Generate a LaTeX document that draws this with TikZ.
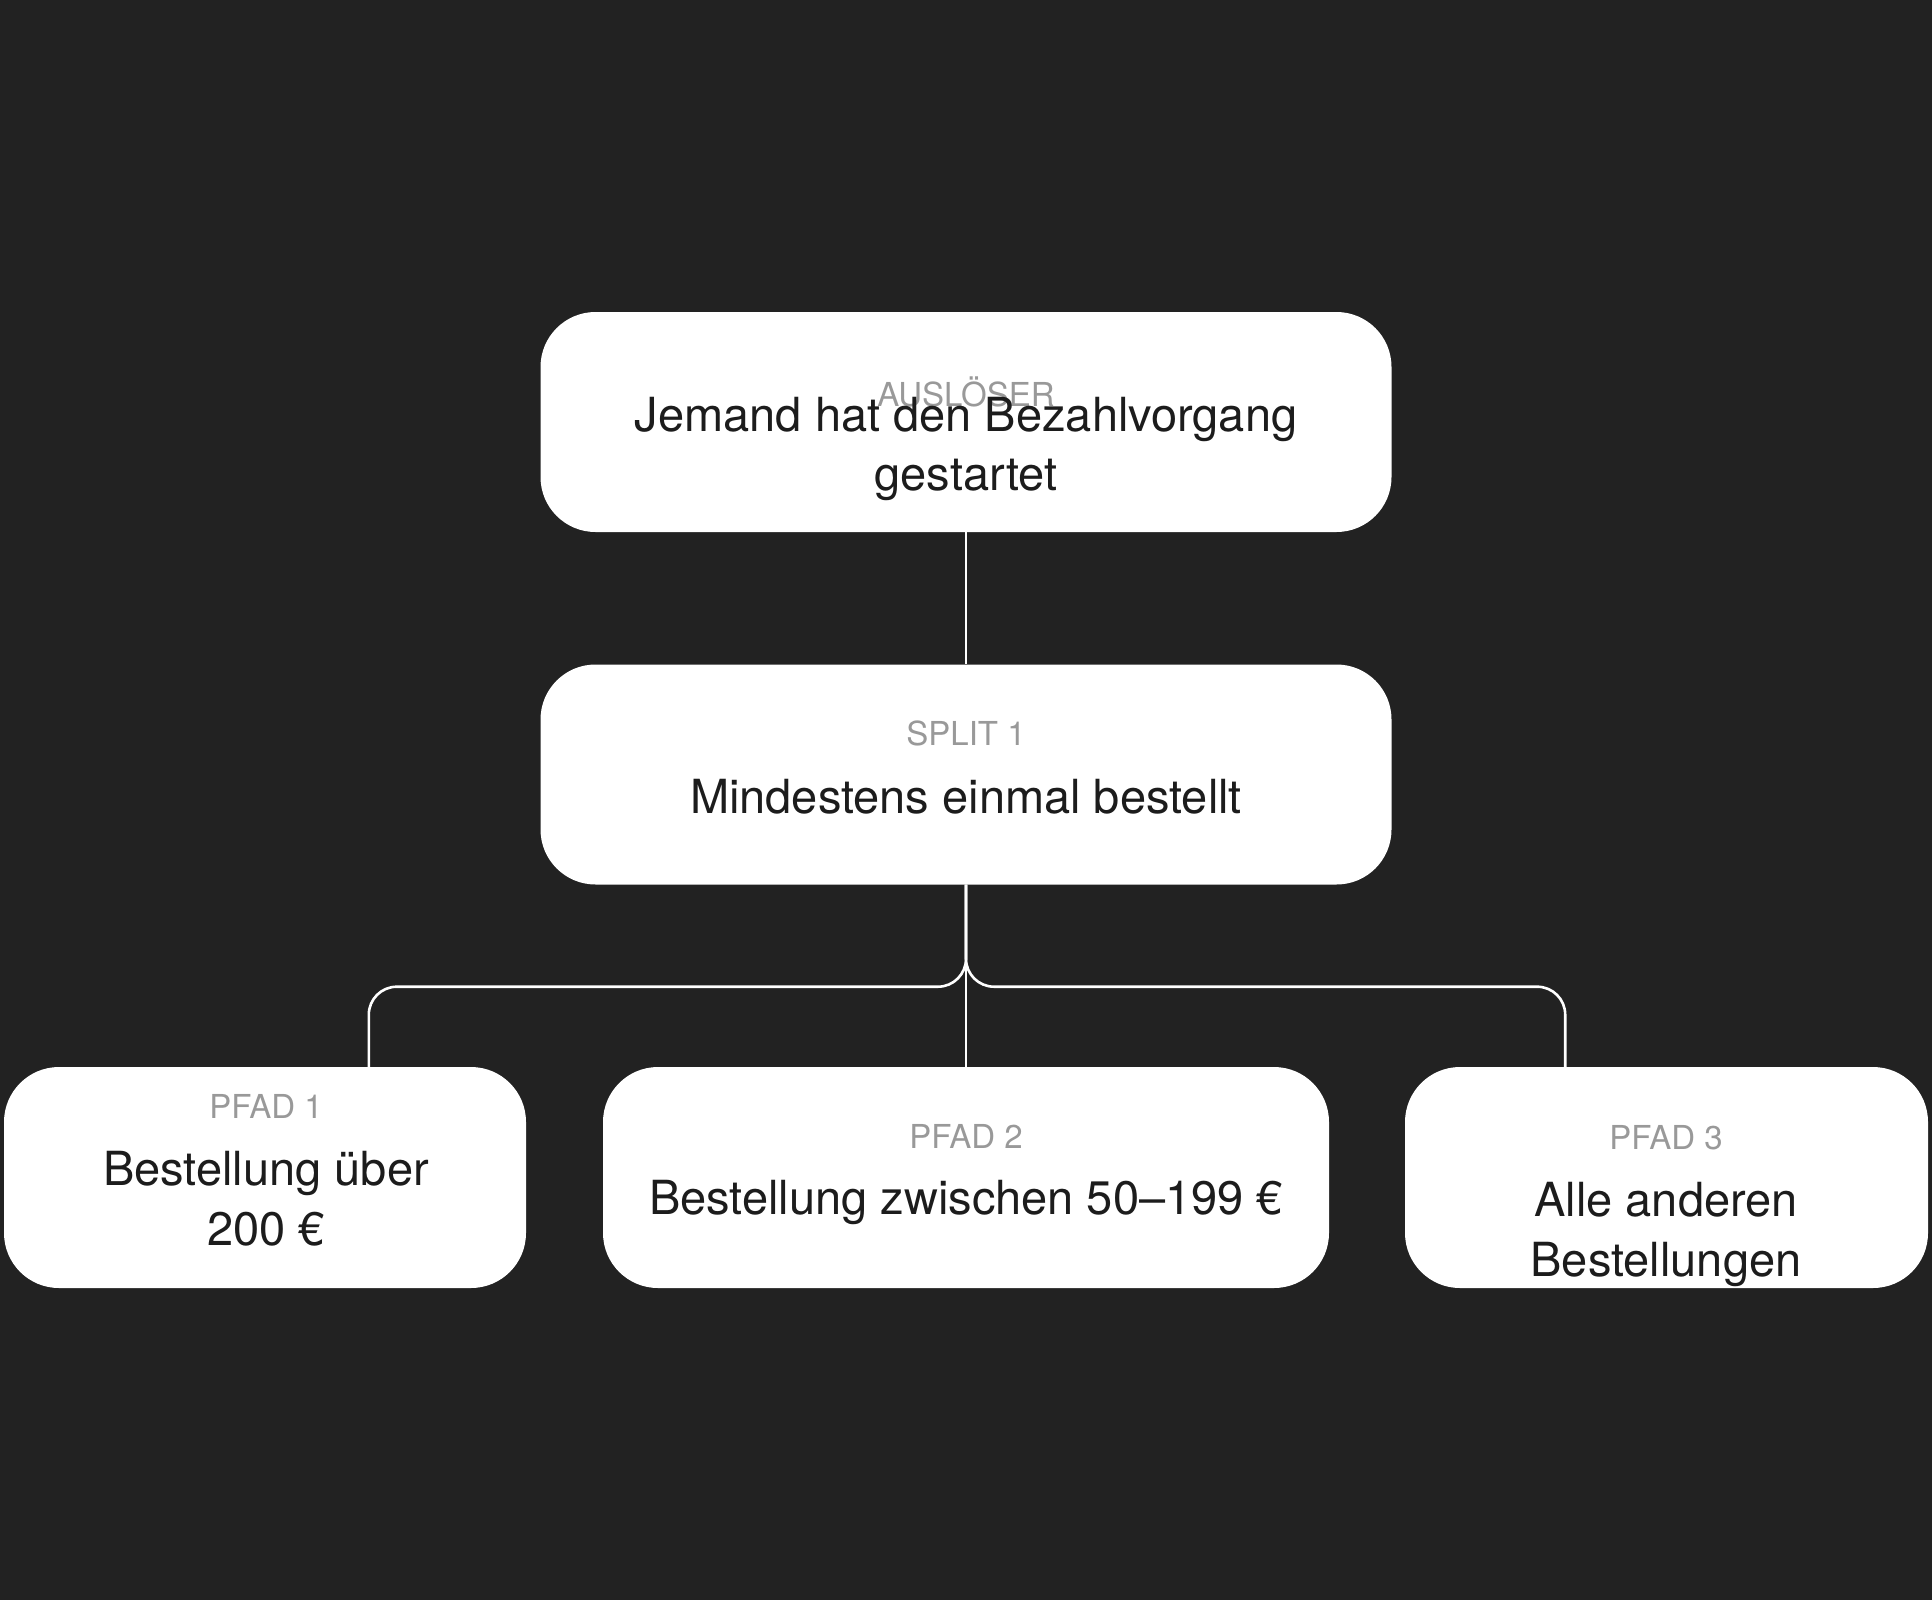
\documentclass[tikz,border=0pt]{standalone}
\usepackage{fontspec}
\setmainfont{TeX Gyre Heros}
\definecolor{bg}{HTML}{222222}
\definecolor{ink}{HTML}{1C1C1C}
\definecolor{lblgray}{HTML}{999999}
\tikzset{
  box/.style={rectangle, rounded corners=55pt, fill=white, draw=none, inner sep=0pt},
  maintxt/.style={anchor=base, inner sep=0pt, text=ink, font=\fontsize{47}{56}\selectfont},
  lbltxt/.style={anchor=base, inner sep=0pt, text=lblgray, font=\fontsize{33}{40}\selectfont},
  conn/.style={draw=white, line width=2.6pt, rounded corners=28pt}
}
\begin{document}
\begin{tikzpicture}[x=1pt,y=-1pt]
\fill[bg] (0,0) rectangle (1932,1600);
\useasboundingbox (0,0) rectangle (1932,1600);

% boxes
\node[box, minimum width=851pt, minimum height=220pt] (trig) at (966,422) {};
\node[box, minimum width=851pt, minimum height=220pt] (split) at (966,774.5) {};
\node[box, minimum width=522pt, minimum height=221pt] (p1) at (265,1177.5) {};
\node[box, minimum width=726pt, minimum height=221pt] (p2) at (966,1177.5) {};
\node[box, minimum width=523pt, minimum height=221pt] (p3) at (1666.5,1177.5) {};

% connectors
\draw[conn] (trig.south) -- (split.north);
\draw[conn] (split.south) -- (p2.north);
\draw[conn] (split.south) -- ++(0,102) -| ([xshift=365pt]p1.north west);
\draw[conn] (split.south) -- ++(0,102) -| ([xshift=-363pt]p3.north east);

% texts
\node[lbltxt] (tl) at (966,406) {AUSLÖSER};
\node[maintxt] (tm1) at (966,431) {Jemand hat den Bezahlvorgang};
\node[maintxt] (tm2) at (966,490) {gestartet};

\node[lbltxt] (sl) at (966,745) {SPLIT 1};
\node[maintxt] (sm) at (966,813) {Mindestens einmal bestellt};

\node[lbltxt] (l1) at (266,1118) {PFAD 1};
\node[maintxt] (m1a) at (266,1185) {Bestellung über};
\node[maintxt] (m1b) at (266,1245) {200 €};

\node[lbltxt] (l2) at (966,1148) {PFAD 2};
\node[maintxt] (m2) at (966,1214) {Bestellung zwischen 50–199 €};

\node[lbltxt] (l3) at (1666,1149) {PFAD 3};
\node[maintxt] (m3a) at (1666,1216) {Alle anderen};
\node[maintxt] (m3b) at (1666,1276) {Bestellungen};
\end{tikzpicture}
\end{document}
